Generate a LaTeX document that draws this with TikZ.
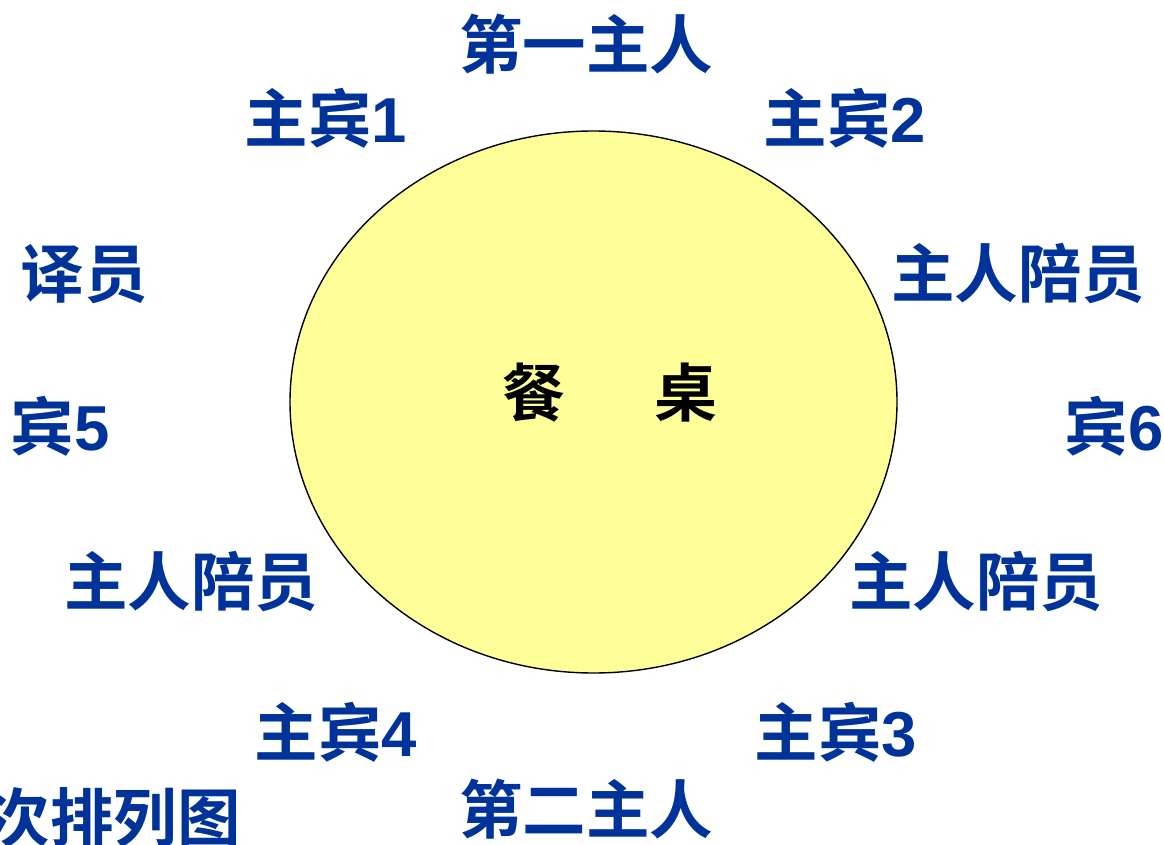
\documentclass[tikz,border=0pt]{standalone}
\usepackage{fontspec}
\setmainfont{Liberation Sans}
\newfontfamily\cjk[BoldFont={Noto Sans CJK SC Bold}]{Noto Sans CJK SC}
\definecolor{seatblue}{HTML}{003399}
\definecolor{tableyellow}{HTML}{FFFF99}
\tikzset{
  seat/.style={font=\fontsize{63.5}{63.5}\selectfont\bfseries, text=seatblue, inner sep=0pt, anchor=center},
  tabletext/.style={font=\fontsize{63}{63}\selectfont\bfseries\cjk, text=black, inner sep=0pt, anchor=center},
  tablebox/.style={draw=black, line width=1.4pt, fill=tableyellow, ellipse, minimum width=607pt, minimum height=542pt, inner sep=0pt}
}
\usetikzlibrary{shapes.geometric}
\begin{document}
\begin{tikzpicture}[x=1pt,y=-1pt]
\useasboundingbox (0,0) rectangle (1164,845);
\clip (0,0) rectangle (1164,845);
\node[tablebox] (table) at (593.5,402) {};
\node[tabletext] (can) at (534,393) {餐};
\node[tabletext] (zhuo) at (686,393) {桌};
\node[seat] (host1) at (586,44) {\cjk 第一主人};
\node[seat] (guest1) at (326,118) {{\cjk 主宾}1};
\node[seat] (guest2) at (845,118) {{\cjk 主宾}2};
\node[seat] (interp) at (84,274) {\cjk 译员};
\node[seat] (escortR1) at (1018,274) {\cjk 主人陪员};
\node[seat] (guest5) at (60,426) {{\cjk 宾}5};
\node[seat] (guest6) at (1114,426) {{\cjk 宾}6};
\node[seat] (escortL) at (191,582) {\cjk 主人陪员};
\node[seat] (escortR2) at (976,582) {\cjk 主人陪员};
\node[seat] (guest4) at (336,732) {{\cjk 主宾}4};
\node[seat] (guest3) at (836,732) {{\cjk 主宾}3};
\node[seat] (host2) at (586,809) {\cjk 第二主人};
\node[seat] (caption) at (114,818) {\cjk 次排列图};
\end{tikzpicture}
\end{document}
